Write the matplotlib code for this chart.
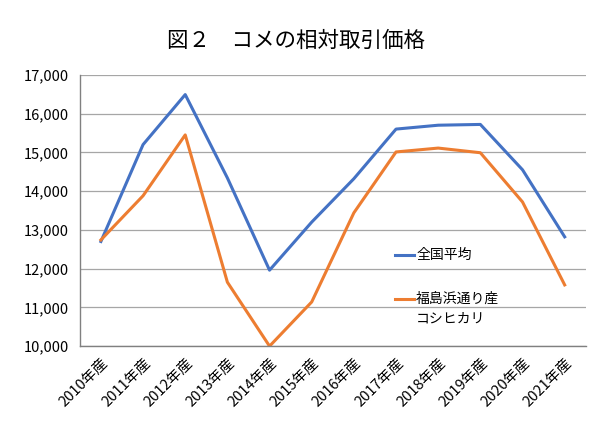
import matplotlib.pyplot as plt

plt.rcParams['font.family'] = ['Noto Sans CJK JP', 'DejaVu Sans']

years = ['2010年産', '2011年産', '2012年産', '2013年産', '2014年産', '2015年産',
         '2016年産', '2017年産', '2018年産', '2019年産', '2020年産', '2021年産']
national = [12700, 15200, 16490, 14340, 11960, 13200,
            14320, 15600, 15700, 15720, 14550, 12820]
fukushima = [12740, 13880, 15450, 11650, 10000, 11140,
             13440, 15010, 15110, 14990, 13720, 11580]
yticks = [10000, 11000, 12000, 13000, 14000, 15000, 16000, 17000]

BLUE = '#4472C4'
ORANGE = '#ED7D31'


def main():
    fig = plt.figure(figsize=(6.14, 4.30), dpi=100)
    ax = fig.add_axes([0.130, 0.195, 0.824, 0.631])

    x = range(len(years))
    ax.plot(x, national, color=BLUE, lw=2.2)
    ax.plot(x, fukushima, color=ORANGE, lw=2.2)

    ax.set_xlim(-0.5, len(years) - 0.5)
    ax.set_ylim(10000, 17000)
    ax.set_yticks(yticks)
    ax.set_yticklabels(['{:,}'.format(v) for v in yticks], fontsize=10.5)
    ax.set_xticks(list(x))
    ax.set_xticklabels(years, rotation=45, ha='right', rotation_mode='anchor', fontsize=10.5)
    ax.tick_params(axis='y', length=0, pad=8)
    ax.tick_params(axis='x', length=0, pad=7)
    ax.grid(axis='y', color='#A6A6A6', lw=0.9)
    ax.set_axisbelow(True)
    for s in ['top', 'right']:
        ax.spines[s].set_visible(False)
    for s in ['left', 'bottom']:
        ax.spines[s].set_color('#808080')
        ax.spines[s].set_linewidth(1.0)

    # legend drawn by hand
    ax.plot([0.622, 0.66], [0.335, 0.335], transform=ax.transAxes, color=BLUE, lw=2.2, clip_on=False)
    ax.text(0.665, 0.335, '全国平均', transform=ax.transAxes, va='center', fontsize=10)
    ax.plot([0.622, 0.66], [0.173, 0.173], transform=ax.transAxes, color=ORANGE, lw=2.2, clip_on=False)
    ax.text(0.665, 0.173, '福島浜通り産', transform=ax.transAxes, va='center', fontsize=10)
    ax.text(0.665, 0.103, 'コシヒカリ', transform=ax.transAxes, va='center', fontsize=10)

    fig.text(0.482, 0.905, '図２　コメの相対取引価格', ha='center', va='center', fontsize=15.5)

    fig.savefig('out.png', dpi=100)
    plt.close()


if __name__ == '__main__':
    main()
